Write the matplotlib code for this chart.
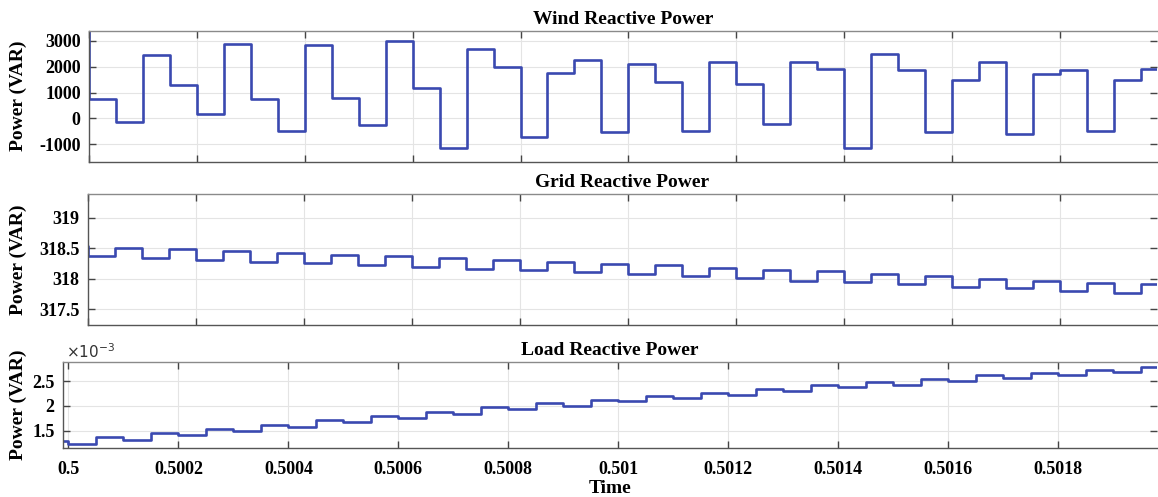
import numpy as np
import matplotlib
matplotlib.use("Agg")
import matplotlib.pyplot as plt
from matplotlib.ticker import MultipleLocator, FuncFormatter


# ----------------------------------------------------------------------
# Data (sampled every 50 us, first value is the sample before t = 0.5)
# ----------------------------------------------------------------------
T_START = 0.5
DT = 5e-5

wind_q = [3400,
          750, -140, 2450, 1300, 180, 2900, 750, -500, 2850, 800,
          -250, 3000, 1180, -1150, 2700, 1980, -700, 1750, 2250, -520,
          2100, 1400, -500, 2200, 1350, -200, 2200, 1900, -1150, 2480,
          1880, -530, 1480, 2200, -600, 1720, 1880, -480, 1480, 1930]

grid_q = [318.54,
          318.38, 318.51, 318.34, 318.48, 318.31, 318.46, 318.28, 318.42, 318.25, 318.39,
          318.23, 318.37, 318.19, 318.34, 318.16, 318.30, 318.14, 318.28, 318.11, 318.24,
          318.08, 318.22, 318.04, 318.18, 318.01, 318.14, 317.97, 318.12, 317.94, 318.08,
          317.91, 318.04, 317.87, 318.00, 317.84, 317.97, 317.80, 317.93, 317.77, 317.91]

# load reactive power, in units of 1e-3 VAR
load_q_milli = [1.28,
                1.225, 1.36, 1.31, 1.45, 1.41, 1.53, 1.50, 1.61, 1.58, 1.71,
                1.67, 1.79, 1.75, 1.88, 1.84, 1.97, 1.93, 2.05, 2.00, 2.12,
                2.09, 2.20, 2.15, 2.27, 2.23, 2.35, 2.30, 2.43, 2.38, 2.49,
                2.43, 2.55, 2.50, 2.63, 2.57, 2.67, 2.63, 2.73, 2.68, 2.79]

titles = ["Wind Reactive Power", "Grid Reactive Power", "Load Reactive Power"]
wind_yticks = [-1000, 0, 1000, 2000, 3000]
grid_yticks = [317.5, 318, 318.5, 319]
load_yticks = [1.5e-3, 2e-3, 2.5e-3]

# ----------------------------------------------------------------------
# Style
# ----------------------------------------------------------------------
W, H = 1158, 497
LINE_COLOUR = "#3a49b0"
FONT = ["Liberation Serif", "DejaVu Serif"]

plt.rcParams["font.family"] = FONT
plt.rcParams["axes.unicode_minus"] = False


def px_axes(left, top, right, bottom):
    """Axes rectangle from pixel edges."""
    return [left / W, 1 - bottom / H, (right - left) / W, (bottom - top) / H]


def step_line(ax, t, values):
    # hold the last sample until the next sample time so the trace reaches the edge
    x = np.append(t, t[-1] + DT)
    y = np.append(values, values[-1])
    ax.plot(x, y, drawstyle="steps-post", color=LINE_COLOUR, linewidth=1.9)


def style_axes(ax, yticks, xlim, ylim, fmt=None):
    ax.set_xlim(*xlim)
    ax.set_ylim(*ylim)
    ax.xaxis.set_major_locator(MultipleLocator(0.0002))
    ax.set_yticks(yticks)
    if fmt is not None:
        ax.yaxis.set_major_formatter(FuncFormatter(fmt))
    ax.grid(True, color="#e4e4e4", linewidth=0.8)
    ax.set_axisbelow(True)
    ax.tick_params(direction="in", length=5, width=1, color="#444444",
                   top=True, right=True, labelsize=13)
    ax.tick_params(axis="y", pad=6)
    for lab in ax.get_yticklabels() + ax.get_xticklabels():
        lab.set_fontweight("bold")
    for side in ["left", "bottom", "top"]:
        ax.spines[side].set_color("#555555")
        ax.spines[side].set_linewidth(1.0)
    ax.spines["top"].set_color("#8a8a8a")
    ax.spines["right"].set_visible(False)


def main() -> None:
    t = T_START + DT * (np.arange(len(wind_q)) - 1)
    load_q = np.array(load_q_milli) * 1e-3

    fig = plt.figure(figsize=(W / 100, H / 100), dpi=100)

    ax1 = fig.add_axes(px_axes(89, 31, 1157, 162))
    ax2 = fig.add_axes(px_axes(88, 194, 1157, 325))
    ax3 = fig.add_axes(px_axes(63, 362, 1157, 448))

    step_line(ax1, t, wind_q)
    step_line(ax2, t, grid_q)
    step_line(ax3, t, load_q)

    style_axes(ax1, wind_yticks, (0.5, 0.50198), (-1684, 3387),
               fmt=lambda v, p: f"{v:g}")
    style_axes(ax2, grid_yticks, (0.5, 0.50198), (317.24, 319.39),
               fmt=lambda v, p: f"{v:g}")
    style_axes(ax3, load_yticks, (0.49999, 0.50198), (1.145e-3, 2.89e-3),
               fmt=lambda v, p: f"{v * 1e3:g}")

    ax1.tick_params(labelbottom=False)
    ax2.tick_params(labelbottom=False)
    ax3.xaxis.set_major_formatter(FuncFormatter(lambda v, p: f"{v:.4f}".rstrip("0")))
    for lab in ax3.get_xticklabels():
        lab.set_fontweight("bold")
    ax3.tick_params(axis="x", pad=9)

    for ax, title in zip([ax1, ax2, ax3], titles):
        ax.set_title(title, fontsize=14, fontweight="bold", pad=5)

    ax3.set_xlabel("Time", fontsize=14, fontweight="bold", labelpad=2)
    ax3.text(0.003, 1.01, r"$\times10^{-3}$", transform=ax3.transAxes,
             fontsize=11, color="#333333", ha="left", va="bottom",
             family="DejaVu Sans")

    for yc in [96, 260, 405]:
        fig.text(18 / W, 1 - yc / H, "Power (VAR)", rotation=90, ha="center",
                 va="center", fontsize=14, fontweight="bold")

    fig.savefig("out.png", dpi=100, facecolor="white")
    plt.close(fig)


if __name__ == "__main__":
    main()
